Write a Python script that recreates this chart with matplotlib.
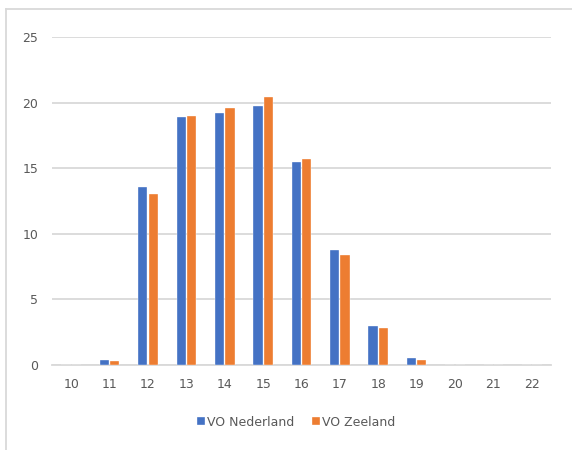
"""Bar chart: share of pupils by age, VO Nederland vs VO Zeeland."""
import matplotlib
matplotlib.use("Agg")
import matplotlib.pyplot as plt
from matplotlib.lines import Line2D
import numpy as np

ages = ["10", "11", "12", "13", "14", "15", "16", "17", "18", "19", "20", "21", "22"]
vo_nederland = [0, 0.4, 13.6, 18.9, 19.2, 19.75, 15.45, 8.8, 2.95, 0.55, 0, 0, 0]
vo_zeeland = [0, 0.3, 13.05, 18.95, 19.6, 20.4, 15.7, 8.4, 2.8, 0.35, 0, 0, 0]
series_names = ["VO Nederland", "VO Zeeland"]

BLUE = "#4472C4"
ORANGE = "#ED7D31"
GRID = "#d9d9d9"
TEXT = "#595959"

fig = plt.figure(figsize=(5.72, 4.5), dpi=100)
# chart frame: only the left and top edges are visible in the crop
bx, by = 5.5 / 572, 1 - 8.5 / 450
fig.add_artist(Line2D([bx, bx], [0, by], transform=fig.transFigure,
                      color=GRID, linewidth=1.3))
fig.add_artist(Line2D([bx, 1], [by, by], transform=fig.transFigure,
                      color=GRID, linewidth=1.3))

ax = fig.add_axes([52 / 572, 85 / 450, 499 / 572, 328 / 450])
x = np.arange(len(ages))
w = 0.24
ax.bar(x - 0.135, vo_nederland, w, color=BLUE, edgecolor="white",
       linewidth=0.25, label=series_names[0], zorder=3)
ax.bar(x + 0.135, vo_zeeland, w, color=ORANGE, edgecolor="white",
       linewidth=0.25, label=series_names[1], zorder=3)

ax.set_xlim(-0.5, len(ages) - 0.5)
ax.set_ylim(0, 25)
ax.set_yticks(range(0, 26, 5))
ax.set_xticks(x)
ax.set_xticklabels(ages)
ax.grid(axis="y", color=GRID, linewidth=1.3, zorder=0)
for side in ["top", "right", "left"]:
    ax.spines[side].set_visible(False)
ax.spines["bottom"].set_color(GRID)
ax.spines["bottom"].set_linewidth(1.3)
ax.tick_params(axis="both", length=0, labelsize=9, labelcolor=TEXT)
ax.tick_params(axis="y", pad=10)
ax.tick_params(axis="x", pad=9)

leg = fig.legend(loc="center", bbox_to_anchor=(296 / 572, 1 - 422 / 450),
                 ncol=2, frameon=False, fontsize=9, handlelength=0.65,
                 handleheight=0.65, handletextpad=0.15, columnspacing=1.4)
for t in leg.get_texts():
    t.set_color(TEXT)

fig.savefig("out.png", dpi=100)
